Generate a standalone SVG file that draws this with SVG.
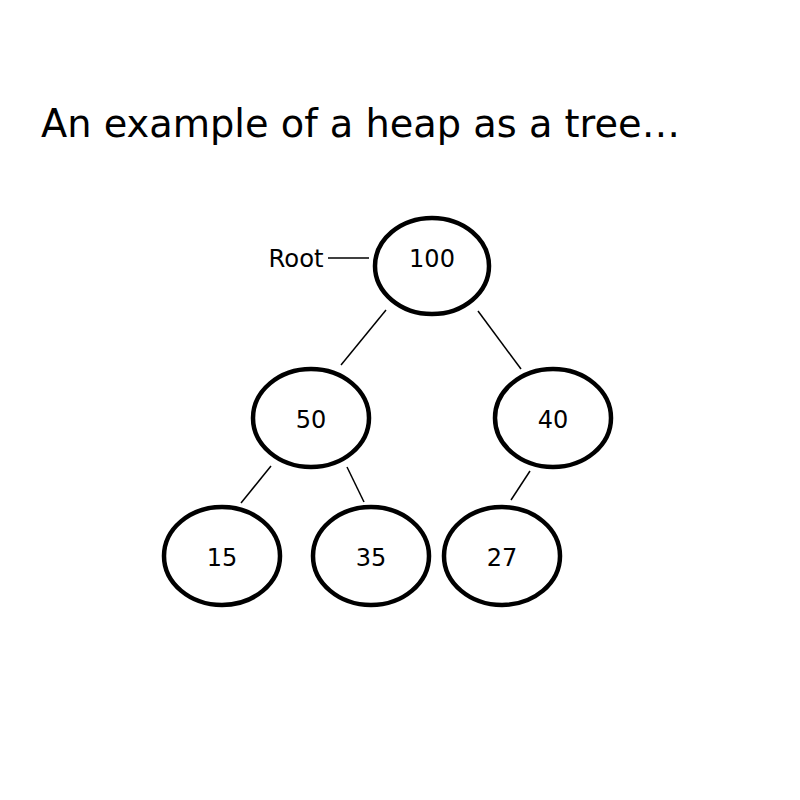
<svg xmlns="http://www.w3.org/2000/svg" width="800" height="800" viewBox="0 0 800 800">
<style>
.node ellipse{fill:#fff;stroke:#000;stroke-width:4.5}
.node text,.lbl{font-family:"DejaVu Sans",Verdana,sans-serif;font-size:24px;fill:#000;text-anchor:middle}
.title{font-family:"DejaVu Sans",Verdana,sans-serif;font-size:39px;fill:#000}
#connectors line{stroke:#000;stroke-width:1.5}
</style>
<rect width="800" height="800" fill="#fff"/>
<text class="title" x="41" y="137" textLength="639" lengthAdjust="spacingAndGlyphs">An example of a heap as a tree…</text>
<g id="connectors">
<line x1="328" y1="258" x2="369" y2="258"/>
<line x1="386" y1="310" x2="341" y2="365"/>
<line x1="478" y1="311" x2="521" y2="369"/>
<line x1="271" y1="466" x2="241" y2="503"/>
<line x1="347" y1="467" x2="364" y2="502"/>
<line x1="530" y1="471" x2="511" y2="500"/>
</g>
<text class="lbl" x="296" y="267" textLength="55" lengthAdjust="spacingAndGlyphs">Root</text>
<g id="n100" class="node"><ellipse cx="432" cy="266" rx="57" ry="48"/><text x="432" y="267">100</text></g>
<g id="n50" class="node"><ellipse cx="311" cy="418" rx="58" ry="49"/><text x="311" y="428">50</text></g>
<g id="n40" class="node"><ellipse cx="553" cy="418" rx="58" ry="49"/><text x="553" y="428">40</text></g>
<g id="n15" class="node"><ellipse cx="222" cy="556" rx="58" ry="49"/><text x="222" y="566">15</text></g>
<g id="n35" class="node"><ellipse cx="371" cy="556" rx="58" ry="49"/><text x="371" y="566">35</text></g>
<g id="n27" class="node"><ellipse cx="502" cy="556" rx="58" ry="49"/><text x="502" y="566">27</text></g>
</svg>
